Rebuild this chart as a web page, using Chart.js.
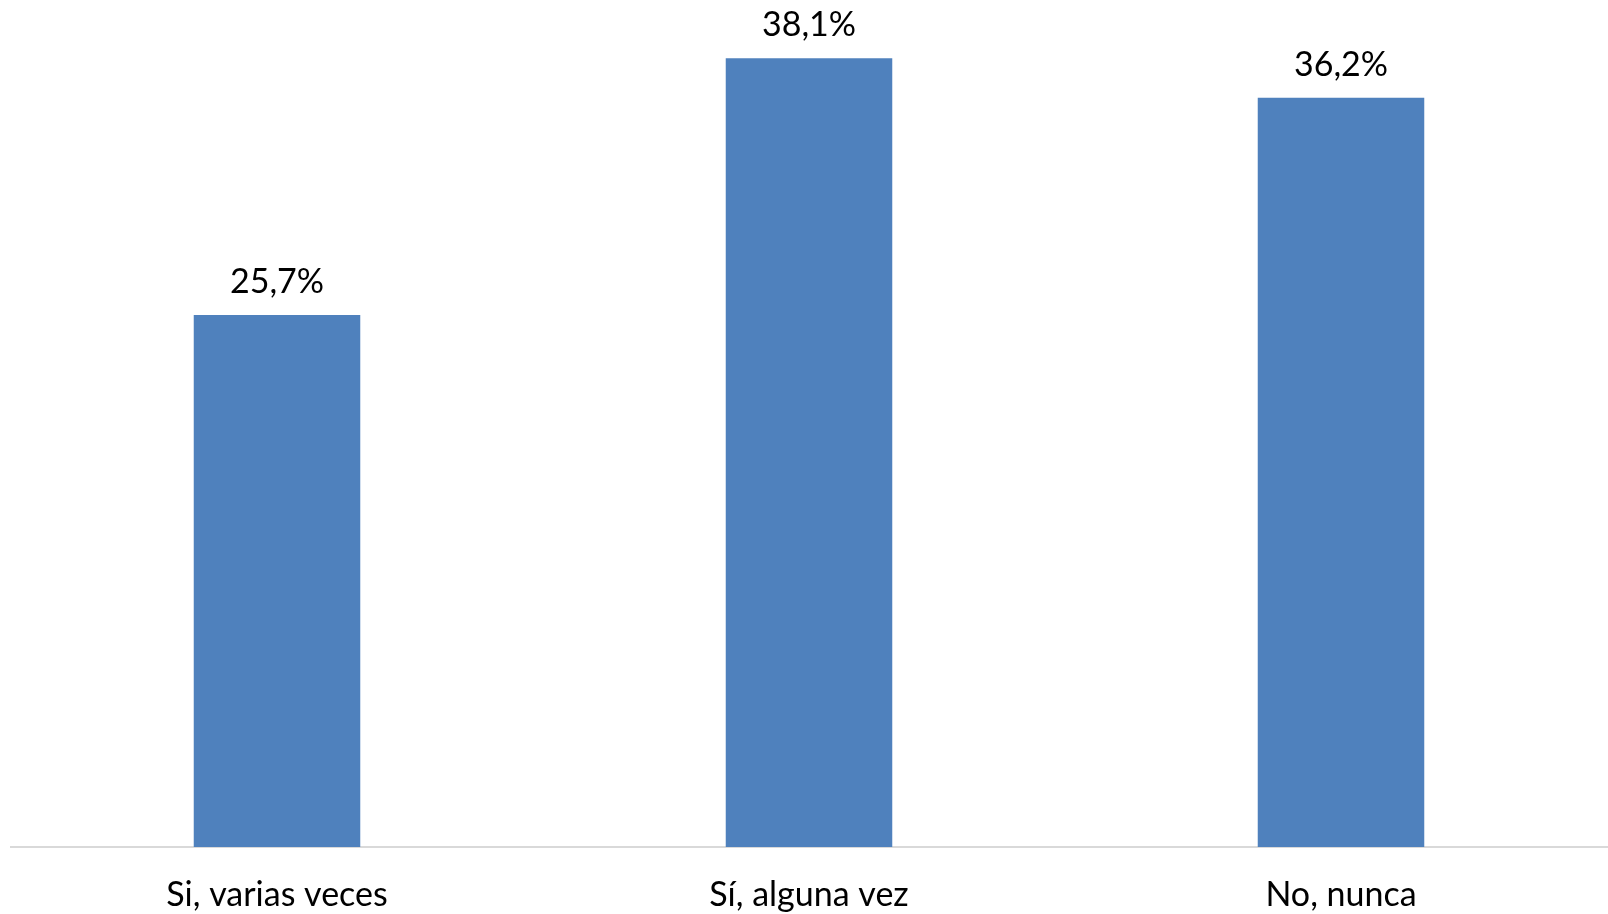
<!DOCTYPE html>
<html>
<head>
<meta charset="utf-8">
<script src="https://cdn.jsdelivr.net/npm/chart.js@4/dist/chart.umd.min.js"></script>
<style>
  html, body { margin: 0; padding: 0; background: #fff; }
  #wrap { width: 1608px; height: 914px; }
</style>
</head>
<body>
<div id="wrap"><canvas id="chart"></canvas></div>
<script>
// datos
const categorias = ['Si, varias veces', 'Sí, alguna vez', 'No, nunca'];
const valores = [25.7, 38.1, 36.2];
const etiquetas = ['25,7%', '38,1%', '36,2%'];

const fuente = 'Lato, "Open Sans", sans-serif';

// etiquetas encima de cada barra
const etiquetasBarras = {
  id: 'etiquetasBarras',
  afterDatasetsDraw(chart) {
    const ctx = chart.ctx;
    const meta = chart.getDatasetMeta(0);
    ctx.save();
    ctx.font = '34px ' + fuente;
    ctx.fillStyle = '#000';
    ctx.textAlign = 'center';
    ctx.textBaseline = 'alphabetic';
    meta.data.forEach((bar, i) => {
      ctx.fillText(etiquetas[i], bar.x, bar.y - 22);
    });
    ctx.restore();
  }
};

const ctx = document.getElementById('chart').getContext('2d');
new Chart(ctx, {
  type: 'bar',
  data: {
    labels: categorias,
    datasets: [{
      data: valores,
      backgroundColor: '#4F81BD',
      barPercentage: 0.313,
      categoryPercentage: 1
    }]
  },
  options: {
    responsive: true,
    maintainAspectRatio: false,
    animation: false,
    layout: { padding: { left: 11, right: 1, top: 19, bottom: 0 } },
    plugins: {
      legend: { display: false },
      tooltip: { enabled: false }
    },
    scales: {
      x: {
        grid: { display: false, drawTicks: false },
        border: { display: true, color: '#D9D9D9', width: 2 },
        ticks: {
          color: '#000',
          font: { family: fuente, size: 34 },
          padding: 28,
          maxRotation: 0,
          autoSkip: false
        },
        afterFit(scale) { scale.height = 67; }
      },
      y: {
        display: false,
        min: 0,
        max: 40
      }
    }
  },
  plugins: [etiquetasBarras]
});
</script>
</body>
</html>
